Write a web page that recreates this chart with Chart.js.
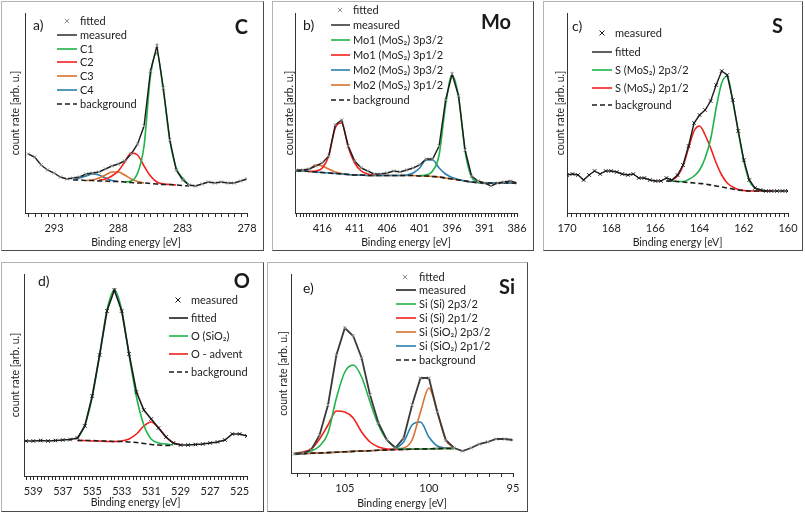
<!DOCTYPE html>
<html>
<head>
<meta charset="utf-8">
<script src="https://cdn.jsdelivr.net/npm/chart.js@4.4.1/dist/chart.umd.min.js"></script>
<style>
  body { margin: 0; background: #fff; width: 805px; height: 513px; position: relative; overflow: hidden; }
  .box { position: absolute; box-sizing: border-box; border: 1px solid #b4b4b4; border-right-color: #4a4a4a; border-bottom-color: #4a4a4a; }
  .box canvas { position: absolute; left: 0; top: 0; }
</style>
</head>
<body>
<div class="box" style="left:1px;top:1px;width:263px;height:250px"><canvas id="cA" width="261" height="248"></canvas></div>
<div class="box" style="left:272px;top:1px;width:262px;height:250px"><canvas id="cB" width="260" height="248"></canvas></div>
<div class="box" style="left:543px;top:1px;width:260px;height:250px"><canvas id="cC" width="258" height="248"></canvas></div>
<div class="box" style="left:1px;top:262px;width:263px;height:250px"><canvas id="cD" width="261" height="248"></canvas></div>
<div class="box" style="left:267px;top:262px;width:261px;height:250px"><canvas id="cE" width="259" height="248"></canvas></div>
<script>
const _ = null;

// a) C 1s  (binding energy in eV, count rate in arbitrary units)
const aRange = [278, 295.25];
const aTicks = [278, 283, 288, 293];
const aEnergy = [295, 294.5, 294, 293.5, 293, 292.5, 292, 291.5, 291, 290.5, 290, 289.5, 289, 288.5, 288, 287.5, 287, 286.5, 286, 285.5, 285, 284.5, 284, 283.5, 283, 282.5, 282, 281.5, 281, 280.5, 280, 279.5, 279, 278.5, 278];
const aMeasured = [59, 56, 48, 43, 40, 36, 34, 35, 36, 39, 40, 41, 44, 47, 49, 52, 59, 69, 87, 142, 167, 125, 73, 43, 33, 28, 27, 29, 31, 30, 31, 30, 30, 32, 34];
const aBackground = [_, _, _, _, _, _, _, 33, 33, 32.5, 32.5, 32, 32, 31.5, 31.5, 31, 30.5, 30, 30, 29.5, 29, 28.5, 28.5, 28, 27.5, 27, _, _, _, _, _, _, _, _, _];
const aC1 = [_, _, _, _, _, _, _, _, _, _, _, _, _, _, _, 31, 32, 40, 67, 137, 160, 122, 73, 45, 35, 28, _, _, _, _, _, _, _, _, _];
const aC2 = [_, _, _, _, _, _, _, _, _, _, _, 33, 34, 37, 42, 51, 60, 58, 47, 37, 31, 29, 28.5, 28, _, _, _, _, _, _, _, _, _, _, _];
const aC3 = [_, _, _, _, _, _, _, _, _, 32.5, 33, 35, 38, 41, 41, 38, 34, 31.5, 30, _, _, _, _, _, _, _, _, _, _, _, _, _, _, _, _];
const aC4 = [_, _, _, _, _, _, _, 33, 35, 37, 39, 38, 35, 32.5, 31.5, _, _, _, _, _, _, _, _, _, _, _, _, _, _, _, _, _, _, _, _];

// b) Mo 3p
const bRange = [386, 420.2];
const bTicks = [386, 391, 396, 401, 406, 411, 416];
const bEnergy = [420, 419, 418, 417, 416, 415, 414, 413, 412, 411, 410, 409, 408, 407, 406, 405, 404, 403, 402, 401, 400, 399, 398, 397, 396, 395, 394, 393, 392, 391, 390, 389, 388, 387, 386];
const bMeasured = [43, 43, 44, 47, 50, 57, 88, 93, 67, 52, 45, 42, 39, 39, 40, 42, 41, 43, 45, 48, 54, 54, 67, 113, 139, 117, 63, 37, 32, 30, 27, 30, 31, 32, 30];
const bBackground = [42, 42, 41.5, 41, 40.5, 40, 39.5, 39, 38.5, 38, 38, 37.5, 37.5, 37.5, 37.5, 37.5, 37.5, 37.5, 37.5, 37, 37, 36.5, 36, 35, 34, 33, 32, 31, 30.5, 30, 30, 30, 30, 30, 30];
const bMo1p32 = [_, _, _, _, _, _, _, _, _, _, _, _, _, _, _, _, _, _, _, 37.5, 38, 42, 58, 108, 138, 116, 62, 36, 31, 30, _, _, _, _, _];
const bMo1p12 = [_, _, 41.5, 42, 45, 57, 85, 90, 66, 50, 42, 39, 37.5, _, _, _, _, _, _, _, _, _, _, _, _, _, _, _, _, _, _, _, _, _, _];
const bMo2p32 = [42, 42, 41.5, 41, 40.5, 40, 39.5, 39, 38.5, 38, 38, 37.5, 37.5, 37.5, 37.5, 37.5, 37.5, 38, 40, 45, 53, 53, 45, 39, 35.5, 33.5, 32, 31, 30.5, 30, 30, 30, 30, 30, 30];
const bMo2p12 = [42, 42.5, 44, 48, 47, 44, 41, 39.5, 38.5, 38, 38, 37.5, 37.5, 37.5, 37.5, 37.5, 37.5, 37.5, 37.5, 37, 37, 36.5, 36, 35, 34, 33, 32, 31, 30.5, 30, 30, 30, 30, 30, 30];

// c) S 2p
const cRange = [160, 170];
const cTicks = [160, 162, 164, 166, 168, 170];
const cEnergy = [170, 169.75, 169.5, 169.25, 169, 168.75, 168.5, 168.25, 168, 167.75, 167.5, 167.25, 167, 166.75, 166.5, 166.25, 166, 165.75, 165.5, 165.25, 165, 164.75, 164.5, 164.25, 164, 163.75, 163.5, 163.25, 163, 162.75, 162.5, 162.25, 162, 161.75, 161.5, 161.25, 161, 160.75, 160.5, 160.25, 160];
const cMeasured = [38, 39, 38, 33, 38, 42, 39, 42, 42, 41, 39, 38, 39, 35, 35, 33, 32, 32, 35, 33, 38, 48, 67, 90, 98, 103, 112, 128, 142, 138, 113, 82, 53, 33, 25, 23, 22, 22, 22, 22, 22];
const cBackground = [_, _, _, _, _, _, _, _, _, _, _, _, _, _, _, _, _, _, 32, 32, 31.5, 31, 30.5, 30, 29.5, 29, 28, 27, 26, 25, 24, 23, 22.5, 22, 22, 22, 22, _, _, _, _];
const cS2p32 = [_, _, _, _, _, _, _, _, _, _, _, _, _, _, _, _, _, _, 32, 32, 31.5, 31.5, 33.5, 37, 43, 55, 74, 105, 130, 137, 112, 81, 52, 32, 25, 23, 22, _, _, _, _];
const cS2p12 = [_, _, _, _, _, _, _, _, _, _, _, _, _, _, _, _, _, _, 32, 33, 37, 47, 65, 82, 87, 78, 65, 50, 38, 30, 26, 23.5, 22.5, 22, 22, 22, 22, 22, _, _, _];

// d) O 1s
const dRange = [524.5, 539.63];
const dTicks = [525, 527, 529, 531, 533, 535, 537, 539];
const dEnergy = [539.5, 539, 538.5, 538, 537.5, 537, 536.5, 536, 535.5, 535, 534.5, 534, 533.5, 533, 532.5, 532, 531.5, 531, 530.5, 530, 529.5, 529, 528.5, 528, 527.5, 527, 526.5, 526, 525.5, 525, 524.5];
const dMeasured = [35, 35, 35.5, 35, 35.5, 36, 36.5, 38, 50, 80, 121, 165, 186, 165, 122, 84, 66, 57, 48, 39, 33, 31, 31, 31.5, 32, 33, 34, 36, 42, 42, 40];
const dBackground = [_, _, _, _, _, _, _, 35.5, 35.5, 35.5, 35, 35, 34.5, 34.5, 34, 33.5, 32.5, 31.5, 31, 30.5, 30.5, _, _, _, _, _, _, _, _, _, _];
const dOSiO2 = [_, _, _, _, _, _, _, 37, 51, 79, 121, 166, 186, 166, 121, 79, 51, 37, 33, 32, 31, _, _, _, _, _, _, _, _, _, _];
const dOAdvent = [_, _, _, _, _, _, _, 35.5, 35.5, 35, 35, 34.5, 34.5, 35, 37, 42, 50, 54, 48, 39, 33, 31, _, _, _, _, _, _, _, _, _];

// e) Si 2p
const eRange = [95, 108.2];
const eTicks = [95, 100, 105];
const eEnergy = [108, 107.5, 107, 106.5, 106, 105.5, 105, 104.5, 104, 103.5, 103, 102.5, 102, 101.5, 101, 100.5, 100, 99.5, 99, 98.5, 98, 97.5, 97, 96.5, 96, 95.5, 95];
const eMeasured = [19, 20, 23, 38, 68, 118, 145, 137, 115, 78, 50, 33, 25, 35, 68, 95, 95, 61, 33, 25, 22, 25, 29, 31, 34, 34, 33];
const eBackground = [19, 19.3, 19.7, 20, 20.4, 20.8, 21.2, 21.6, 22, 22.3, 22.7, 23, 23.3, 23.6, 23.8, 24, 24.2, 24.4, 24.5, 24.6, _, _, _, _, _, _, _];
const eSi2p32 = [19.5, 20, 22, 27, 40, 75, 101, 108, 96, 71, 48, 33, 26, 24, 24, 24, 24.2, 24.4, 24.5, 24.6, _, _, _, _, _, _, _];
const eSi2p12 = [20, 21, 24, 34, 48, 62, 61, 55, 41, 31, 26, 24, 23.5, 23.6, 23.8, 24, 24.2, 24.4, 24.5, 24.6, _, _, _, _, _, _, _];
const eSiO2p32 = [19, 19.3, 19.7, 20, 20.4, 20.8, 21.2, 21.6, 22, 22.3, 22.7, 23, 24, 25, 33, 61, 85, 61, 33, 25, _, _, _, _, _, _, _];
const eSiO2p12 = [19, 19.3, 19.7, 20, 20.4, 20.8, 21.2, 21.6, 22, 22.3, 22.7, 23, 25, 31, 48, 51, 36, 27, 25, 24.6, _, _, _, _, _, _, _];

const GREEN = '#1fb34a', RED = '#f2201c', ORANGE = '#d9722e', BLUE = '#2a7fae';
const BLACK = '#1c1c1c', GREY = '#8c8c8c';
const FONT = 'Lato, "Open Sans", sans-serif';
const DASH = [5, 3];

const panels = [
  {
    id: 'cA', w: 261, h: 248, area: { left: 23, top: 11, right: 245, bottom: 211 }, yMax: 200,
    range: aRange, majors: aTicks, minorStep: 0.5, energy: aEnergy, yTitleX: 13, xTitleY: 241,
    tag: ['a)', 31, 23], elem: ['C', 246, 26],
    legend: { x0: 55, x1: 75, tx: 78, mx: 65, ys: [19, 33, 47, 60, 74, 88, 102] },
    series: [
      { label: 'fitted', values: aMeasured, color: GREY, marker: 2.2, order: 0 },
      { label: 'measured', values: aMeasured, color: BLACK, width: 1.4, order: 1 },
      { label: 'C1', values: aC1, color: GREEN, order: 3 },
      { label: 'C2', values: aC2, color: RED, order: 4 },
      { label: 'C3', values: aC3, color: ORANGE, order: 5 },
      { label: 'C4', values: aC4, color: BLUE, order: 6 },
      { label: 'background', values: aBackground, color: BLACK, dash: DASH, order: 2 }
    ]
  },
  {
    id: 'cB', w: 260, h: 248, area: { left: 22, top: 11, right: 244, bottom: 211 }, yMax: 200,
    range: bRange, majors: bTicks, minorStep: 0.5, energy: bEnergy, yTitleX: 16, xTitleY: 241,
    tag: ['b)', 30, 23], elem: ['Mo', 238, 21],
    legend: { x0: 58, x1: 77, tx: 80, mx: 67, ys: [8, 23, 38, 53, 68, 83, 98] },
    series: [
      { label: 'fitted', values: bMeasured, color: GREY, marker: 2.2, order: 0 },
      { label: 'measured', values: bMeasured, color: BLACK, width: 1.4, order: 1 },
      { label: 'Mo1 (MoS\u2082) 3p3/2', values: bMo1p32, color: GREEN, order: 3 },
      { label: 'Mo1 (MoS\u2082) 3p1/2', values: bMo1p12, color: RED, order: 4 },
      { label: 'Mo2 (MoS\u2082) 3p3/2', values: bMo2p32, color: BLUE, order: 5 },
      { label: 'Mo2 (MoS\u2082) 3p1/2', values: bMo2p12, color: ORANGE, order: 6 },
      { label: 'background', values: bBackground, color: BLACK, dash: DASH, order: 2 }
    ]
  },
  {
    id: 'cC', w: 258, h: 248, area: { left: 23, top: 11, right: 244, bottom: 211 }, yMax: 200,
    range: cRange, majors: cTicks, minorStep: 0.2, energy: cEnergy, yTitleX: 16, xTitleY: 241,
    tag: ['c)', 28, 24], elem: ['S', 239, 25],
    legend: { x0: 48, x1: 68, tx: 71, mx: 58, ys: [31, 50, 68, 86, 103] },
    series: [
      { label: 'measured', values: cMeasured, color: BLACK, marker: 2.5, order: 0 },
      { label: 'fitted', values: cMeasured, color: BLACK, width: 1.4, order: 1 },
      { label: 'S (MoS\u2082) 2p3/2', values: cS2p32, color: GREEN, order: 3 },
      { label: 'S (MoS\u2082) 2p1/2', values: cS2p12, color: RED, order: 4 },
      { label: 'background', values: cBackground, color: BLACK, dash: DASH, order: 2 }
    ]
  },
  {
    id: 'cD', w: 261, h: 248, area: { left: 22, top: 11, right: 245, bottom: 213 }, yMax: 202,
    range: dRange, majors: dTicks, minorStep: 0.25, energy: dEnergy, yTitleX: 13, xTitleY: 240,
    tag: ['d)', 36, 18], elem: ['O', 248, 19],
    legend: { x0: 167, x1: 186, tx: 189, mx: 176, ys: [37, 55, 73, 91, 109] },
    series: [
      { label: 'measured', values: dMeasured, color: BLACK, marker: 2.5, order: 0 },
      { label: 'fitted', values: dMeasured, color: BLACK, width: 1.6, order: 1 },
      { label: 'O (SiO\u2082)', values: dOSiO2, color: GREEN, order: 3 },
      { label: 'O - advent', values: dOAdvent, color: RED, order: 4 },
      { label: 'background', values: dBackground, color: BLACK, dash: DASH, order: 2 }
    ]
  },
  {
    id: 'cE', w: 259, h: 248, area: { left: 23, top: 11, right: 245, bottom: 210 }, yMax: 199,
    range: eRange, majors: eTicks, minorStep: 5 / 7, energy: eEnergy, yTitleX: 15, xTitleY: 241,
    tag: ['e)', 35, 25], elem: ['Si', 247, 25],
    legend: { x0: 128, x1: 148, tx: 151, mx: 137, ys: [14, 27, 41, 55, 69, 83, 97] },
    series: [
      { label: 'fitted', values: eMeasured, color: GREY, marker: 2.2, order: 0 },
      { label: 'measured', values: eMeasured, color: '#3a3a3a', width: 1.8, order: 1 },
      { label: 'Si (Si) 2p3/2', values: eSi2p32, color: GREEN, order: 3 },
      { label: 'Si (Si) 2p1/2', values: eSi2p12, color: RED, order: 4 },
      { label: 'Si (SiO\u2082) 2p3/2', values: eSiO2p32, color: ORANGE, order: 5 },
      { label: 'Si (SiO\u2082) 2p1/2', values: eSiO2p12, color: BLUE, order: 6 },
      { label: 'background', values: eBackground, color: BLACK, dash: DASH, order: 2 }
    ]
  }
];

function drawCross(ctx, x, y, r, color) {
  ctx.strokeStyle = color;
  ctx.lineWidth = 1;
  ctx.setLineDash([]);
  ctx.beginPath();
  ctx.moveTo(x - r, y - r); ctx.lineTo(x + r, y + r);
  ctx.moveTo(x - r, y + r); ctx.lineTo(x + r, y - r);
  ctx.stroke();
}

// legend, panel letter, element name and the small axis ticks
function decorPlugin(p, ticks) {
  return {
    id: 'decor',
    afterDraw(chart) {
      const ctx = chart.ctx;
      const lg = p.legend;
      const xs = chart.scales.x;
      const base = Math.round(chart.chartArea.bottom);
      ctx.save();
      ctx.fillStyle = '#2a2a2a';
      ticks.forEach(v => {
        const px = Math.round(xs.getPixelForValue(v));
        ctx.fillRect(px, base, 1, 4);
      });

      p.series.forEach((s, i) => {
        const y = lg.ys[i];
        if (s.marker) {
          drawCross(ctx, lg.mx, y, s.marker, s.color);
        } else {
          ctx.strokeStyle = s.color;
          ctx.lineWidth = s.width || 1.6;
          ctx.setLineDash(s.dash || []);
          ctx.beginPath();
          ctx.moveTo(lg.x0, y);
          ctx.lineTo(lg.x1, y);
          ctx.stroke();
          ctx.setLineDash([]);
        }
        ctx.fillStyle = '#222';
        ctx.font = '11px ' + FONT;
        ctx.textAlign = 'left';
        ctx.textBaseline = 'middle';
        ctx.fillText(s.label, lg.tx, y);
      });
      ctx.fillStyle = '#1a1a1a';
      ctx.font = '14px ' + FONT;
      ctx.textAlign = 'left';
      ctx.fillText(p.tag[0], p.tag[1], p.tag[2]);
      ctx.font = 'bold 20px ' + FONT;
      ctx.textAlign = 'right';
      ctx.fillText(p.elem[0], p.elem[1], p.elem[2]);
      ctx.restore();
    }
  };
}

function tickList(p) {
  const list = [];
  const start = p.majors[0];
  for (let k = 0; k < 500; k++) {
    const v = +(start + k * p.minorStep).toFixed(6);
    if (v > p.range[1] + 1e-9) break;
    list.push(v);
  }
  for (let k = 1; k < 500; k++) {
    const v = +(start - k * p.minorStep).toFixed(6);
    if (v < p.range[0] - 1e-9) break;
    list.unshift(v);
  }
  return list;
}

function buildPanel(p) {
  const ticks = tickList(p);
  const datasets = p.series.map(s => ({
    label: s.label,
    data: p.energy.map((x, i) => ({ x: x, y: s.values[i] })),
    order: s.order,
    borderColor: s.color,
    backgroundColor: s.color,
    borderWidth: s.marker ? 1 : (s.width || 1.6),
    borderDash: s.dash || [],
    showLine: !s.marker,
    pointStyle: 'crossRot',
    pointRadius: s.marker ? s.marker : 0,
    pointBorderWidth: 1,
    pointBorderColor: s.color,
    cubicInterpolationMode: (s.marker || s.order === 1) ? 'default' : 'monotone',
    tension: 0,
    spanGaps: false
  }));

  new Chart(document.getElementById(p.id), {
    type: 'line',
    data: { datasets: datasets },
    plugins: [decorPlugin(p, ticks)],
    options: {
      responsive: false,
      animation: false,
      devicePixelRatio: 1,
      layout: { padding: { left: 0, top: p.area.top, right: p.w - p.area.right, bottom: 0 } },
      plugins: { legend: { display: false }, tooltip: { enabled: false } },
      scales: {
        x: {
          type: 'linear',
          reverse: true,
          min: p.range[0],
          max: p.range[1],
          afterBuildTicks: sc => { sc.ticks = p.majors.map(v => ({ value: v })); },
          afterFit: sc => { sc.height = p.h - p.area.bottom; },
          ticks: {
            autoSkip: false,
            maxRotation: 0,
            padding: 5,
            color: '#222',
            font: { family: FONT, size: 11 }
          },
          grid: { display: false, drawTicks: true, tickLength: 4 },
          border: { display: true, color: '#333', width: 1 },
          title: {
            display: true, text: 'Binding energy [eV]', color: '#222',
            font: { family: FONT, size: 10.5 },
            padding: { top: 0, bottom: p.h - p.xTitleY - 6 }
          }
        },
        y: {
          min: 0,
          max: p.yMax,
          afterFit: sc => { sc.width = p.area.left; },
          ticks: { display: false },
          grid: { display: false },
          border: { display: true, color: '#333', width: 1 },
          title: {
            display: true, text: 'count rate [arb. u.]', color: '#222',
            font: { family: FONT, size: 10.5 },
            padding: { top: p.yTitleX - 6, bottom: 0 }
          }
        }
      }
    }
  });
}

panels.forEach(buildPanel);
</script>
</body>
</html>
